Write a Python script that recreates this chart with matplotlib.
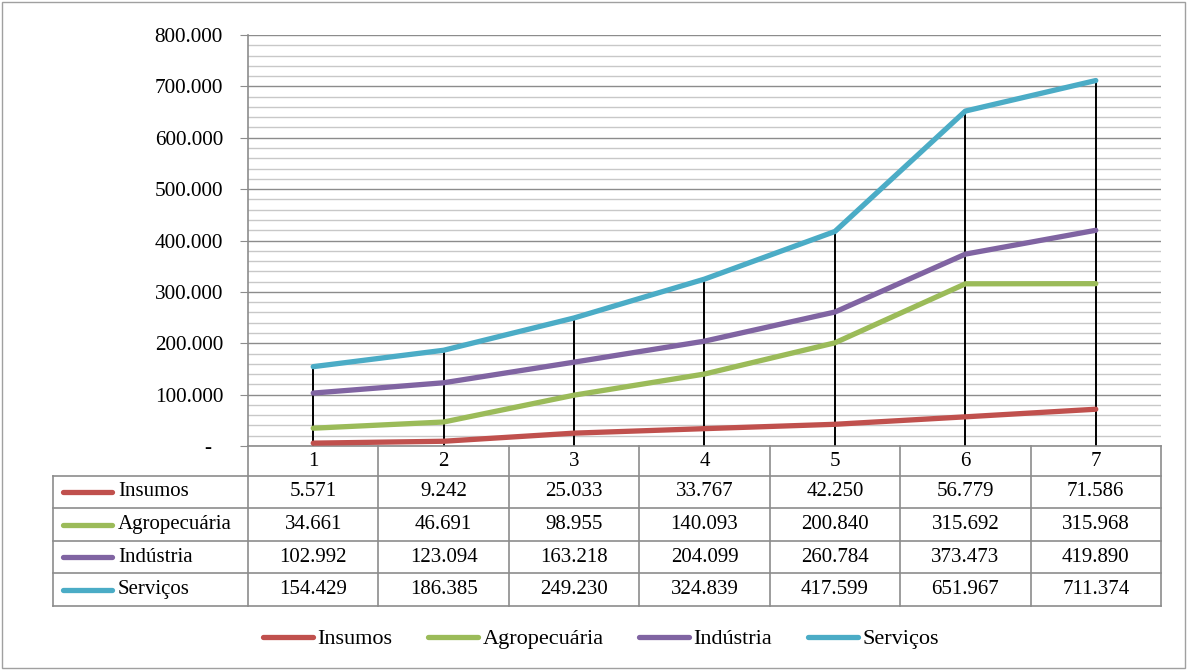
import matplotlib.pyplot as plt
from matplotlib import transforms
from matplotlib.patches import Rectangle
from matplotlib.ticker import MultipleLocator, FuncFormatter

plt.rcParams['font.family'] = ['Liberation Serif', 'DejaVu Serif']

# dados
periodos = ["1", "2", "3", "4", "5", "6", "7"]
series = ["Insumos", "Agropecuária", "Indústria", "Serviços"]
insumos = [5571, 9242, 25033, 33767, 42250, 56779, 71586]
agropecuaria = [34661, 46691, 98955, 140093, 200840, 315692, 315968]
industria = [102992, 123094, 163218, 204099, 260784, 373473, 419890]
servicos = [154429, 186385, 249230, 324839, 417599, 651967, 711374]
cores = ["#C0504D", "#9BBB59", "#8064A2", "#4BACC6"]
valores = [insumos, agropecuaria, industria, servicos]

W, H = 1187, 670
def fx(x):
    return x / W
def fy(y):
    return 1 - y / H

def milhar(v):
    return f"{int(round(v)):,}".replace(",", ".")

fig = plt.figure(figsize=(W / 100, H / 100), dpi=100)
ax = fig.add_axes([fx(248), fy(446), fx(1161) - fx(248), fy(35) - fy(446)])

xs = list(range(len(periodos)))
ax.vlines(xs, 0, servicos, color="black", lw=1.4, zorder=2)
for nome, vals, cor in zip(series, valores, cores):
    ax.plot(xs, vals, color=cor, lw=3.8, solid_capstyle="round", label=nome, zorder=3)

ax.set_xlim(-0.5, len(periodos) - 0.5)
ax.set_ylim(0, 800000)
ax.yaxis.set_major_locator(MultipleLocator(100000))
ax.yaxis.set_minor_locator(MultipleLocator(20000))
ax.yaxis.set_major_formatter(FuncFormatter(lambda v, _: "-  " if v == 0 else milhar(v)))
ax.grid(which="major", axis="y", color="#8c8c8c", lw=1.0)
ax.grid(which="minor", axis="y", color="#c8c8c8", lw=1.0)
ax.set_axisbelow(True)
ax.set_xticks([])
ax.tick_params(axis="y", which="major", length=6, color="#8c8c8c", pad=12, labelsize=15.3)
ax.tick_params(axis="y", which="minor", length=0)
for s in ["top", "right"]:
    ax.spines[s].set_visible(False)
for s in ["left", "bottom"]:
    ax.spines[s].set_color("#8c8c8c")
    ax.spines[s].set_linewidth(1.2)

# tabela de dados
bt = transforms.blended_transform_factory(ax.transData, fig.transFigure)
cinza = "#8c8c8c"
linhas_y = [446, 476, 508, 541, 573, 606]
for y in linhas_y[1:]:
    fig.add_artist(plt.Line2D([fx(53), fx(1161)], [fy(y), fy(y)], color=cinza, lw=1.2))
fig.add_artist(plt.Line2D([fx(53), fx(53)], [fy(476), fy(606)], color=cinza, lw=1.2))
for i in range(len(periodos) + 1):
    ax.add_artist(plt.Line2D([i - 0.5, i - 0.5], [fy(446), fy(606)], color=cinza,
                             lw=1.2, transform=bt, clip_on=False))
for i, p in enumerate(periodos):
    fig.text(i, fy(461), p, transform=bt, ha="center", va="center", fontsize=15)

for r, (nome, vals, cor) in enumerate(zip(series, valores, cores)):
    yc = (linhas_y[r + 1] + linhas_y[r + 2]) / 2
    fig.add_artist(plt.Line2D([fx(63), fx(112)], [fy(yc), fy(yc)], color=cor, lw=3.8,
                              solid_capstyle="round"))
    fig.text(fx(118), fy(yc), nome, ha="left", va="center", fontsize=15)
    for i, v in enumerate(vals):
        fig.text(i, fy(yc), milhar(v), transform=bt, ha="center", va="center", fontsize=15)

fig.legend(loc="center", bbox_to_anchor=(fx(601), fy(639)), ncol=4, frameon=False,
           fontsize=16, handlelength=2.25, handletextpad=0.2, columnspacing=1.6)

fig.add_artist(Rectangle((fx(2), fy(668)), fx(1183), fy(2) - fy(668), fill=False,
                         edgecolor="#a0a0a0", lw=1.0, transform=fig.transFigure))

fig.savefig("out.png", dpi=100)
